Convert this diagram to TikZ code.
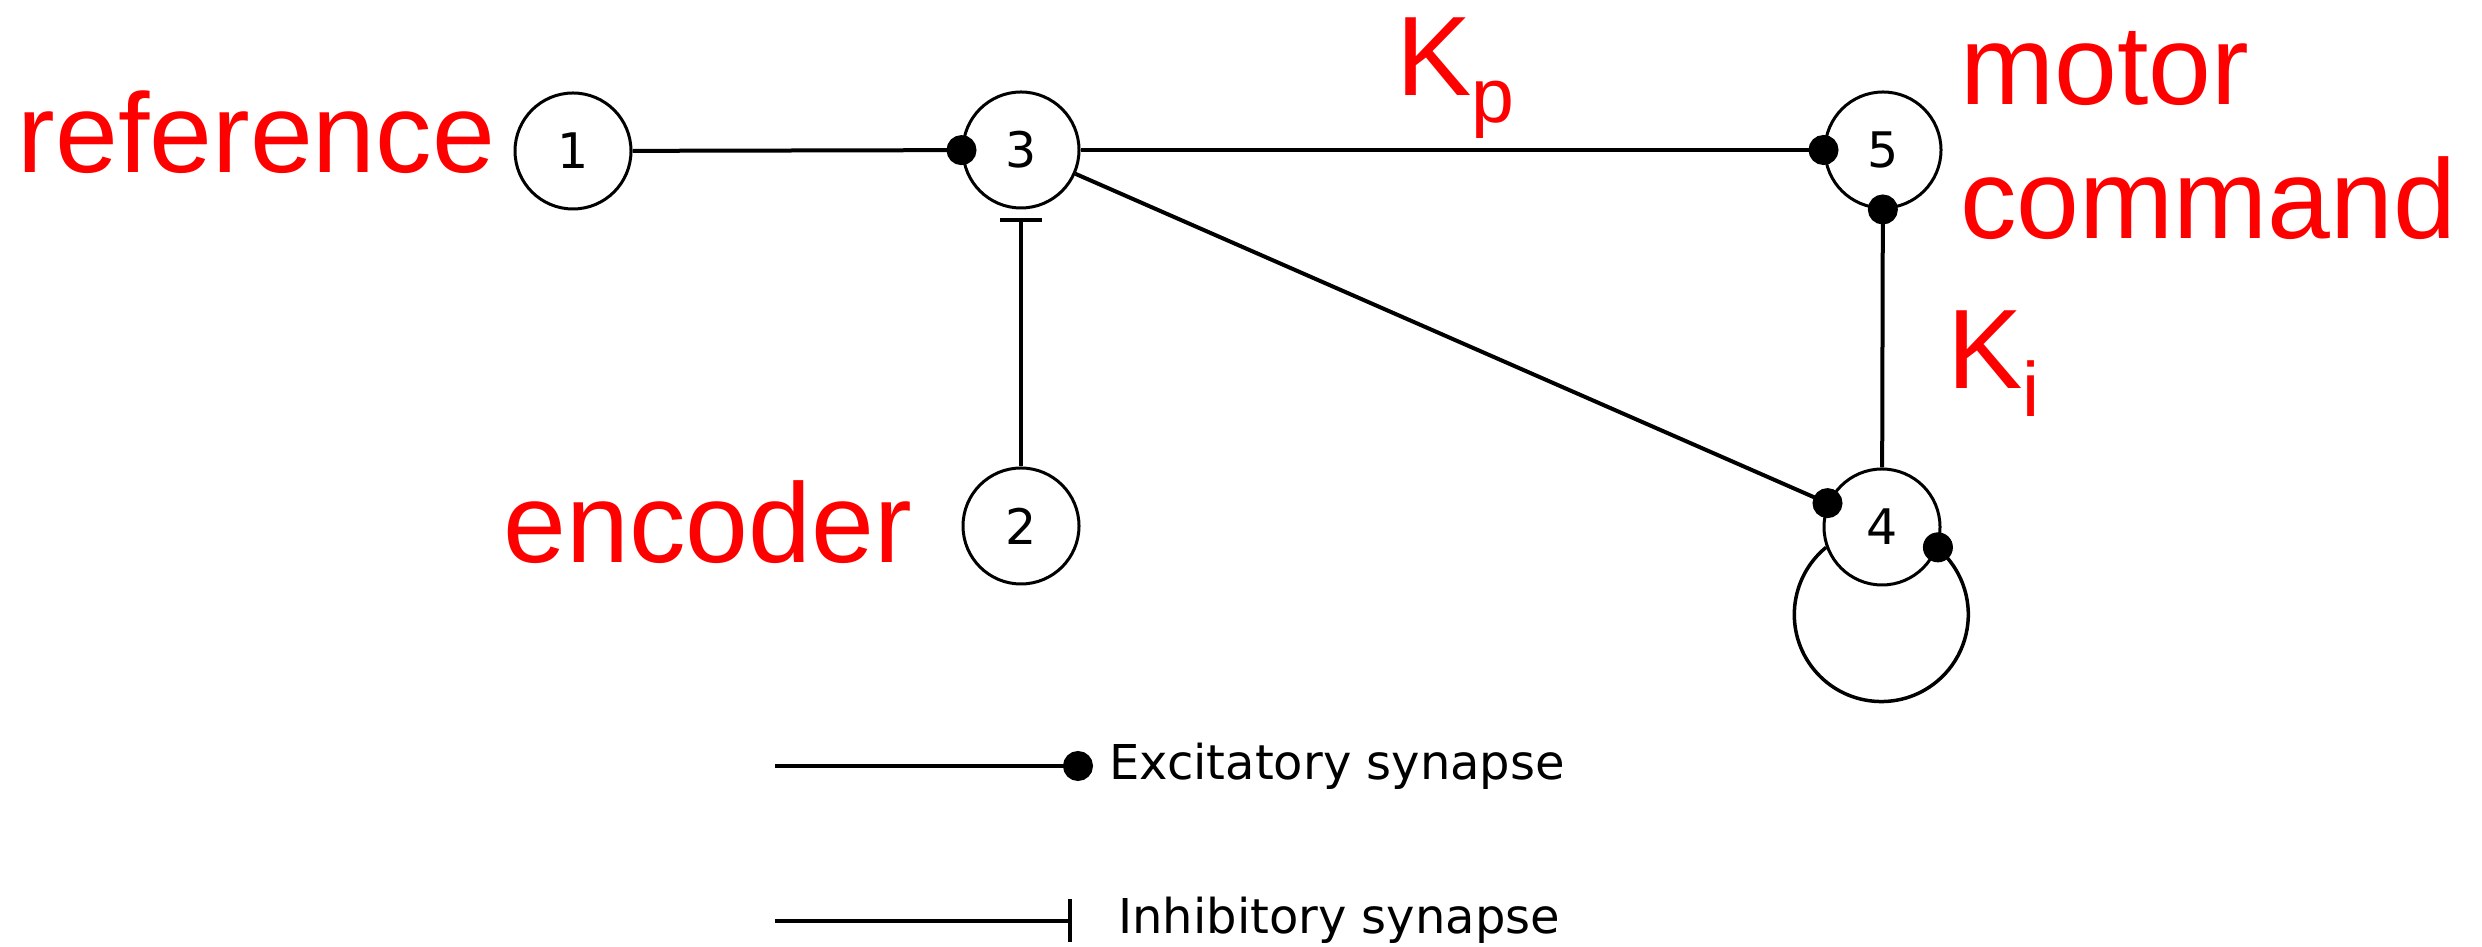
\documentclass[tikz,border=0pt]{standalone}
\usepackage{fontspec}
\setmainfont{Liberation Sans}
\newfontfamily\numfont{DejaVu Sans}
\usetikzlibrary{arrows.meta}
\begin{document}
\begin{tikzpicture}[x=1pt,y=1pt,
  neuron/.style={circle, draw, line width=3pt, minimum size=116pt, inner sep=0pt,
    font=\numfont\fontsize{49}{49}\selectfont},
  exc/.style={line width=4pt, -{Circle[length=30pt,width=30pt]}, shorten >=-15pt},
  inh/.style={line width=4pt, -{Bar[width=42pt,line width=4pt]}, shorten >=9pt},
  inhkey/.style={line width=4pt, -{Bar[width=43pt,line width=4pt]}},
  lbl/.style={text=red, inner sep=0pt, anchor=base west,
    font=\fontsize{113}{134}\selectfont},
  keytext/.style={inner sep=0pt, anchor=base west,
    font=\numfont\fontsize{48}{48}\selectfont}]
\useasboundingbox (0,0) rectangle (2482,947);

% neurons
\node[neuron] (n1) at (573,796) {1};
\node[neuron] (n3) at (1021,797) {3};
\node[neuron] (n5) at (1883,797) {5};
\node[neuron] (n2) at (1021,421) {2};
\node[neuron] (n4) at (1882,420) {4};

% synapses
\draw[exc] (n1) -- (n3);
\draw[exc] (n3) -- (n5);
\draw[exc] (n3) -- (n4);
\draw[exc] (n4) -- (n5);
\draw[inh] (n2) -- (n3);

% self connection of neuron 4
\draw[line width=3.5pt] (n4.200.6) arc[start angle=129.4, end angle=410.6, radius=87];
\fill (n4.-20.6) circle[radius=15];

% red annotations
\node[lbl] (ref) at (17.5,774) {reference};
\node[lbl] (enc) at (503.5,384) {encoder};
\node[lbl] (motor) at (1960,842) {motor};
\node[lbl] (command) at (1960,708) {command};
\node[lbl] (kp) at (1396,851) {K\raisebox{-27pt}{\fontsize{77}{77}\selectfont p}};
\node[lbl] (ki) at (1947,558) {K\raisebox{-28pt}{\fontsize{77}{77}\selectfont i}};

% legend
\coordinate (exA) at (775,181);
\coordinate (exB) at (1078,181);
\draw[exc] (exA) -- (exB);
\node[keytext] (exT) at (1109,167) {Excitatory synapse};

\coordinate (inA) at (775,26);
\coordinate (inB) at (1072,26);
\draw[inhkey] (inA) -- (inB);
\node[keytext] (inT) at (1118,13) {Inhibitory synapse};
\end{tikzpicture}
\end{document}
